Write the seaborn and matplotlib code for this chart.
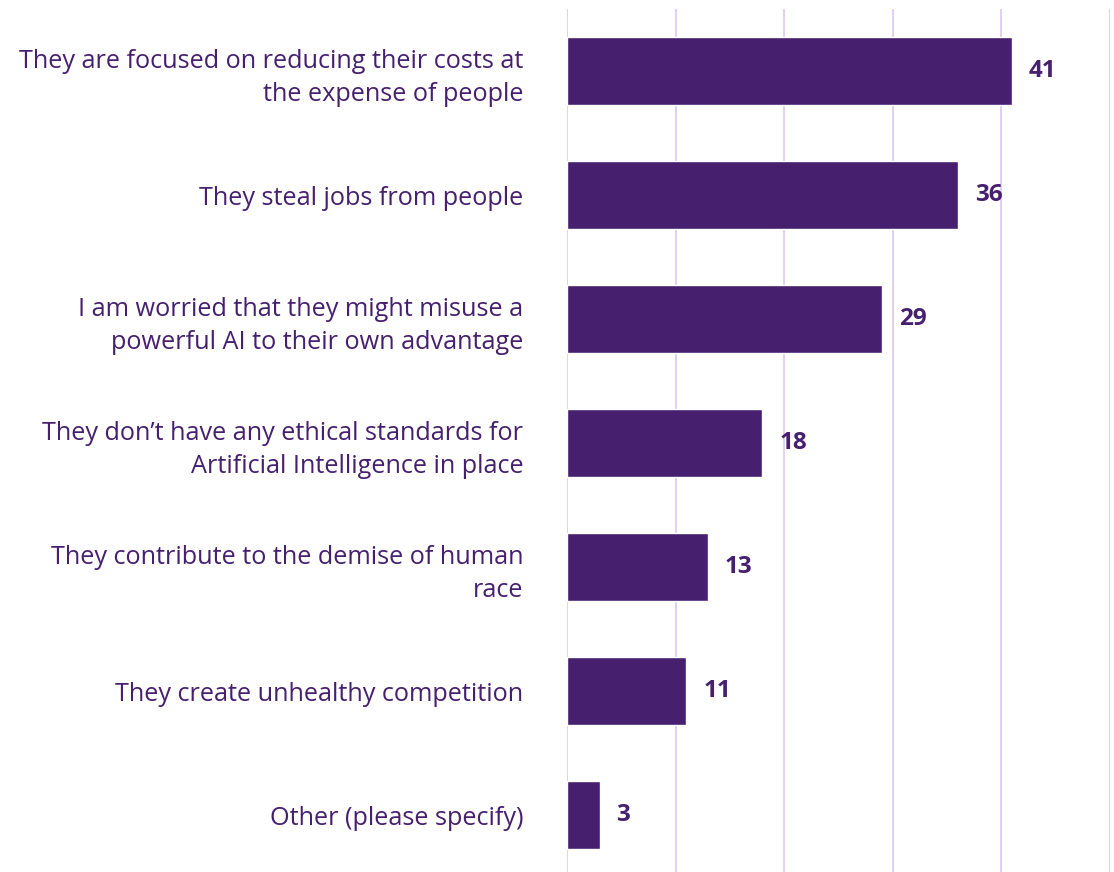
import matplotlib
matplotlib.use("Agg")
import matplotlib.pyplot as plt
import seaborn as sns
import pandas as pd

categories = [
    "They are focused on reducing their costs at\nthe expense of people",
    "They steal jobs from people",
    "I am worried that they might misuse a\npowerful AI to their own advantage",
    "They don\u2019t have any ethical standards for\nArtificial Intelligence in place",
    "They contribute to the demise of human\nrace",
    "They create unhealthy competition",
    "Other (please specify)",
]
values = [41, 36, 29, 18, 13, 11, 3]

sns.set_style("white")
plt.rcParams['font.family'] = ['Open Sans', 'DejaVu Sans']

bar_color = "#46206F"
text_color = "#46206F"
grid_color = "#DCC6F2"

df = pd.DataFrame({"category": categories, "value": values})

fig = plt.figure(figsize=(11.14, 8.72), dpi=100)
ax = fig.add_axes([567/1114, -5/872, (1110-567)/1114, 868/872])

sns.barplot(data=df, y="category", x="value", orient="h", color=bar_color,
            width=0.55, saturation=1, ax=ax, zorder=3)

ax.set_xlim(0, 50)
ax.set_ylim(6.5, -0.5)
ax.set_xticks([0, 10, 20, 30, 40, 50])
ax.xaxis.grid(True, color=grid_color, linewidth=1.2, zorder=0)
ax.yaxis.grid(False)
ax.set_axisbelow(True)
for s in ax.spines.values():
    s.set_visible(False)
ax.tick_params(axis="x", bottom=False, labelbottom=False)
ax.tick_params(axis="y", left=False, pad=28, labelsize=18.2, labelcolor=text_color)
for lab in ax.get_yticklabels():
    lab.set_horizontalalignment("right")
    lab.set_linespacing(1.4)
ax.set_xlabel("")
ax.set_ylabel("")

for c in ax.containers:
    ax.bar_label(c, labels=[str(v) for v in values], padding=12,
                 fontsize=17.5, fontweight="bold", color=text_color)

fig.savefig("out.png", dpi=100)
